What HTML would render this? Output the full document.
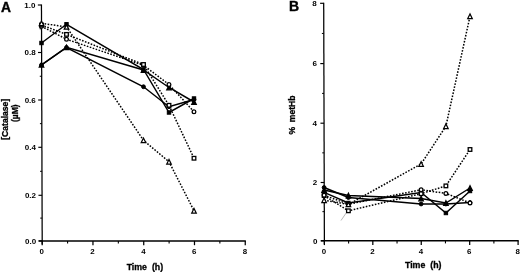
<!DOCTYPE html>
<html><head><meta charset="utf-8"><title>Figure</title>
<style>
html,body{margin:0;padding:0;background:#fff;overflow:hidden;}
svg{display:block;font-family:"Liberation Sans", sans-serif;will-change:transform;}
</style></head><body>
<svg width="520" height="272" viewBox="0 0 520 272">
<rect width="520" height="272" fill="#fff"/>
<path d="M41.45,4.4 L42.2,244.3" fill="none" stroke="#000" stroke-width="1.25"/>
<path d="M38.6,240.9 H245.85" fill="none" stroke="#000" stroke-width="1.5"/>
<line x1="38.60" y1="240.90" x2="42.20" y2="240.90" stroke="#000" stroke-width="1.15"/>
<text x="36.2" y="243.65" font-size="8.0" font-weight="bold" text-anchor="end">0.0</text>
<line x1="40.23" y1="218.10" x2="42.13" y2="218.10" stroke="#000" stroke-width="1"/>
<line x1="38.46" y1="195.30" x2="42.06" y2="195.30" stroke="#000" stroke-width="1.15"/>
<text x="36.06" y="198.05" font-size="8.0" font-weight="bold" text-anchor="end">0.2</text>
<line x1="40.08" y1="171.30" x2="41.98" y2="171.30" stroke="#000" stroke-width="1"/>
<line x1="38.30" y1="147.30" x2="41.90" y2="147.30" stroke="#000" stroke-width="1.15"/>
<text x="35.9" y="150.05" font-size="8.0" font-weight="bold" text-anchor="end">0.4</text>
<line x1="39.93" y1="123.65" x2="41.83" y2="123.65" stroke="#000" stroke-width="1"/>
<line x1="38.15" y1="100.00" x2="41.75" y2="100.00" stroke="#000" stroke-width="1.15"/>
<text x="35.75" y="102.75" font-size="8.0" font-weight="bold" text-anchor="end">0.6</text>
<line x1="39.78" y1="76.25" x2="41.68" y2="76.25" stroke="#000" stroke-width="1"/>
<line x1="38.00" y1="52.50" x2="41.60" y2="52.50" stroke="#000" stroke-width="1.15"/>
<text x="35.6" y="55.25" font-size="8.0" font-weight="bold" text-anchor="end">0.8</text>
<line x1="39.63" y1="28.75" x2="41.53" y2="28.75" stroke="#000" stroke-width="1"/>
<line x1="37.85" y1="5.00" x2="41.45" y2="5.00" stroke="#000" stroke-width="1.15"/>
<text x="35.45" y="7.75" font-size="8.0" font-weight="bold" text-anchor="end">1.0</text>
<line x1="42.20" y1="240.9" x2="42.20" y2="245.20000000000002" stroke="#000" stroke-width="1.25"/>
<text x="41.8" y="254.1" font-size="7.9" font-weight="bold" text-anchor="middle">0</text>
<line x1="67.58" y1="240.9" x2="67.58" y2="243.5" stroke="#000" stroke-width="1.1"/>
<line x1="92.96" y1="240.9" x2="92.96" y2="245.20000000000002" stroke="#000" stroke-width="1.25"/>
<text x="92.56" y="254.1" font-size="7.9" font-weight="bold" text-anchor="middle">2</text>
<line x1="118.34" y1="240.9" x2="118.34" y2="243.5" stroke="#000" stroke-width="1.1"/>
<line x1="143.73" y1="240.9" x2="143.73" y2="245.20000000000002" stroke="#000" stroke-width="1.25"/>
<text x="143.33" y="254.1" font-size="7.9" font-weight="bold" text-anchor="middle">4</text>
<line x1="169.11" y1="240.9" x2="169.11" y2="243.5" stroke="#000" stroke-width="1.1"/>
<line x1="194.49" y1="240.9" x2="194.49" y2="245.20000000000002" stroke="#000" stroke-width="1.25"/>
<text x="194.09" y="254.1" font-size="7.9" font-weight="bold" text-anchor="middle">6</text>
<line x1="219.87" y1="240.9" x2="219.87" y2="243.5" stroke="#000" stroke-width="1.1"/>
<line x1="245.25" y1="240.9" x2="245.25" y2="245.20000000000002" stroke="#000" stroke-width="1.25"/>
<text x="244.85" y="254.1" font-size="7.9" font-weight="bold" text-anchor="middle">8</text>
<text x="144.9" y="270.2" font-size="8.8" font-weight="bold" stroke="#000" stroke-width="0.3" text-anchor="middle">Time&#160;&#160;(h)</text>
<text x="8.2" y="119.3" font-size="8.6" font-weight="bold" stroke="#000" stroke-width="0.3" text-anchor="middle" transform="rotate(-90 8.2 119.3)">[Catalase]</text>
<text x="18.4" y="113.2" font-size="8.5" font-weight="bold" stroke="#000" stroke-width="0.3" text-anchor="middle" transform="rotate(-90 18.4 113.2)">(µM)</text>
<text x="0" y="0" font-size="14.4" font-weight="bold" stroke="#000" stroke-width="0.4" text-anchor="start" transform="translate(0.9 11.5) scale(0.96 1)">A</text>
<polyline points="41.50,26.30 66.50,39.25 143.50,65.30 169.00,84.50 194.00,111.75" fill="none" stroke="#000" stroke-width="1.5" stroke-dasharray="1.6 1.5"/>
<polyline points="41.50,25.00 66.50,34.40 143.50,64.50 169.00,105.30 194.00,158.25" fill="none" stroke="#000" stroke-width="1.5" stroke-dasharray="1.6 1.5"/>
<polyline points="41.50,23.30 66.50,26.90 143.50,140.30 169.00,161.75 194.00,210.75" fill="none" stroke="#000" stroke-width="1.5" stroke-dasharray="1.6 1.5"/>
<polyline points="41.50,65.00 66.50,47.50 143.50,86.75 169.00,106.75 194.00,99.50" fill="none" stroke="#000" stroke-width="1.45"/>
<polyline points="41.50,64.80 66.50,47.30 143.50,70.00 169.00,87.50 194.00,102.00" fill="none" stroke="#000" stroke-width="1.45"/>
<polyline points="41.50,43.00 66.50,24.25 143.50,69.50 169.00,112.50 194.00,98.50" fill="none" stroke="#000" stroke-width="1.45"/>
<circle cx="41.50" cy="65.00" r="1.9" fill="#000" stroke="#000" stroke-width="1.0"/>
<circle cx="66.50" cy="47.50" r="1.9" fill="#000" stroke="#000" stroke-width="1.0"/>
<circle cx="143.50" cy="86.75" r="1.9" fill="#000" stroke="#000" stroke-width="1.0"/>
<circle cx="169.00" cy="106.75" r="1.9" fill="#000" stroke="#000" stroke-width="1.0"/>
<circle cx="194.00" cy="99.50" r="1.9" fill="#000" stroke="#000" stroke-width="1.0"/>
<polygon points="41.50,62.55 39.25,67.05 43.75,67.05" fill="#000" stroke="#000" stroke-width="1.25" stroke-linejoin="miter"/>
<polygon points="66.50,45.05 64.25,49.55 68.75,49.55" fill="#000" stroke="#000" stroke-width="1.25" stroke-linejoin="miter"/>
<polygon points="143.50,67.75 141.25,72.25 145.75,72.25" fill="#000" stroke="#000" stroke-width="1.25" stroke-linejoin="miter"/>
<polygon points="169.00,85.25 166.75,89.75 171.25,89.75" fill="#000" stroke="#000" stroke-width="1.25" stroke-linejoin="miter"/>
<polygon points="194.00,99.75 191.75,104.25 196.25,104.25" fill="#000" stroke="#000" stroke-width="1.25" stroke-linejoin="miter"/>
<rect x="39.80" y="41.30" width="3.40" height="3.40" fill="#000" stroke="#000" stroke-width="1.0"/>
<rect x="64.80" y="22.55" width="3.40" height="3.40" fill="#000" stroke="#000" stroke-width="1.0"/>
<rect x="141.80" y="67.80" width="3.40" height="3.40" fill="#000" stroke="#000" stroke-width="1.0"/>
<rect x="167.30" y="110.80" width="3.40" height="3.40" fill="#000" stroke="#000" stroke-width="1.0"/>
<rect x="192.30" y="96.80" width="3.40" height="3.40" fill="#000" stroke="#000" stroke-width="1.0"/>
<circle cx="41.50" cy="26.30" r="1.85" fill="#fff" stroke="#000" stroke-width="1.3"/>
<circle cx="66.50" cy="39.25" r="1.85" fill="#fff" stroke="#000" stroke-width="1.3"/>
<circle cx="143.50" cy="65.30" r="1.85" fill="#fff" stroke="#000" stroke-width="1.3"/>
<circle cx="169.00" cy="84.50" r="1.85" fill="#fff" stroke="#000" stroke-width="1.3"/>
<circle cx="194.00" cy="111.75" r="1.85" fill="#fff" stroke="#000" stroke-width="1.3"/>
<rect x="39.70" y="23.20" width="3.60" height="3.60" fill="#fff" stroke="#000" stroke-width="1.3"/>
<rect x="64.70" y="32.60" width="3.60" height="3.60" fill="#fff" stroke="#000" stroke-width="1.3"/>
<rect x="141.70" y="62.70" width="3.60" height="3.60" fill="#fff" stroke="#000" stroke-width="1.3"/>
<rect x="167.20" y="103.50" width="3.60" height="3.60" fill="#fff" stroke="#000" stroke-width="1.3"/>
<rect x="192.20" y="156.45" width="3.60" height="3.60" fill="#fff" stroke="#000" stroke-width="1.3"/>
<polygon points="41.50,21.05 39.25,25.55 43.75,25.55" fill="#fff" stroke="#000" stroke-width="1.25" stroke-linejoin="miter"/>
<polygon points="66.50,24.65 64.25,29.15 68.75,29.15" fill="#fff" stroke="#000" stroke-width="1.25" stroke-linejoin="miter"/>
<polygon points="143.50,138.05 141.25,142.55 145.75,142.55" fill="#fff" stroke="#000" stroke-width="1.25" stroke-linejoin="miter"/>
<polygon points="169.00,159.50 166.75,164.00 171.25,164.00" fill="#fff" stroke="#000" stroke-width="1.25" stroke-linejoin="miter"/>
<polygon points="194.00,208.50 191.75,213.00 196.25,213.00" fill="#fff" stroke="#000" stroke-width="1.25" stroke-linejoin="miter"/>
<path d="M323.7,2.6999999999999997 L324.4,244.20000000000002" fill="none" stroke="#000" stroke-width="1.25"/>
<path d="M320.79999999999995,240.8 H518.7" fill="none" stroke="#000" stroke-width="1.5"/>
<line x1="320.80" y1="240.80" x2="324.40" y2="240.80" stroke="#000" stroke-width="1.15"/>
<text x="317.4" y="243.55" font-size="8.0" font-weight="bold" text-anchor="end">0</text>
<line x1="322.41" y1="211.65" x2="324.31" y2="211.65" stroke="#000" stroke-width="1"/>
<line x1="320.63" y1="182.50" x2="324.23" y2="182.50" stroke="#000" stroke-width="1.15"/>
<text x="317.23" y="185.25" font-size="8.0" font-weight="bold" text-anchor="end">2</text>
<line x1="322.24" y1="152.85" x2="324.14" y2="152.85" stroke="#000" stroke-width="1"/>
<line x1="320.45" y1="123.20" x2="324.05" y2="123.20" stroke="#000" stroke-width="1.15"/>
<text x="317.05" y="125.95" font-size="8.0" font-weight="bold" text-anchor="end">4</text>
<line x1="322.07" y1="93.40" x2="323.97" y2="93.40" stroke="#000" stroke-width="1"/>
<line x1="320.28" y1="63.60" x2="323.88" y2="63.60" stroke="#000" stroke-width="1.15"/>
<text x="316.88" y="66.35" font-size="8.0" font-weight="bold" text-anchor="end">6</text>
<line x1="321.89" y1="33.45" x2="323.79" y2="33.45" stroke="#000" stroke-width="1"/>
<line x1="320.10" y1="3.30" x2="323.70" y2="3.30" stroke="#000" stroke-width="1.15"/>
<text x="316.7" y="6.05" font-size="8.0" font-weight="bold" text-anchor="end">8</text>
<line x1="324.40" y1="240.8" x2="324.40" y2="245.10000000000002" stroke="#000" stroke-width="1.25"/>
<text x="324.0" y="253.8" font-size="7.9" font-weight="bold" text-anchor="middle">0</text>
<line x1="348.61" y1="240.8" x2="348.61" y2="243.4" stroke="#000" stroke-width="1.1"/>
<line x1="372.82" y1="240.8" x2="372.82" y2="245.10000000000002" stroke="#000" stroke-width="1.25"/>
<text x="372.43" y="253.8" font-size="7.9" font-weight="bold" text-anchor="middle">2</text>
<line x1="397.04" y1="240.8" x2="397.04" y2="243.4" stroke="#000" stroke-width="1.1"/>
<line x1="421.25" y1="240.8" x2="421.25" y2="245.10000000000002" stroke="#000" stroke-width="1.25"/>
<text x="420.85" y="253.8" font-size="7.9" font-weight="bold" text-anchor="middle">4</text>
<line x1="445.46" y1="240.8" x2="445.46" y2="243.4" stroke="#000" stroke-width="1.1"/>
<line x1="469.68" y1="240.8" x2="469.68" y2="245.10000000000002" stroke="#000" stroke-width="1.25"/>
<text x="469.28" y="253.8" font-size="7.9" font-weight="bold" text-anchor="middle">6</text>
<line x1="493.89" y1="240.8" x2="493.89" y2="243.4" stroke="#000" stroke-width="1.1"/>
<line x1="518.10" y1="240.8" x2="518.10" y2="245.10000000000002" stroke="#000" stroke-width="1.25"/>
<text x="517.7" y="253.8" font-size="7.9" font-weight="bold" text-anchor="middle">8</text>
<text x="423.2" y="267.8" font-size="8.8" font-weight="bold" stroke="#000" stroke-width="0.3" text-anchor="middle">Time&#160;&#160;(h)</text>
<text x="294.8" y="115" font-size="8.6" font-weight="bold" stroke="#000" stroke-width="0.3" text-anchor="middle" transform="rotate(-90 294.8 115)">%&#160;&#160;metHb</text>
<text x="0" y="0" font-size="14.4" font-weight="bold" stroke="#000" stroke-width="0.4" text-anchor="start" transform="translate(288.9 11.3) scale(0.97 1)">B</text>
<line x1="341" y1="220.5" x2="347.5" y2="211" stroke="#888" stroke-width="0.6"/>
<polyline points="324.10,195.60 348.40,210.80 421.10,193.70 445.90,185.90 470.00,149.50" fill="none" stroke="#000" stroke-width="1.5" stroke-dasharray="1.6 1.5"/>
<polyline points="324.10,195.20 348.40,204.20 421.10,189.80 445.90,193.40 470.00,202.90" fill="none" stroke="#000" stroke-width="1.5" stroke-dasharray="1.6 1.5"/>
<polyline points="324.10,200.25 348.40,204.40 421.10,164.00 445.90,126.25 470.00,16.25" fill="none" stroke="#000" stroke-width="1.5" stroke-dasharray="1.6 1.5"/>
<polyline points="324.10,187.50 348.40,197.50 421.10,204.00 445.90,204.00 470.00,202.50" fill="none" stroke="#000" stroke-width="1.45"/>
<polyline points="324.10,192.40 348.40,203.00 421.10,192.50 445.90,213.00 470.00,191.00" fill="none" stroke="#000" stroke-width="1.45"/>
<polyline points="324.10,190.00 348.40,195.50 421.10,198.50 445.90,203.00 470.00,188.00" fill="none" stroke="#000" stroke-width="1.45"/>
<circle cx="324.10" cy="187.50" r="1.9" fill="#000" stroke="#000" stroke-width="1.0"/>
<circle cx="348.40" cy="197.50" r="1.9" fill="#000" stroke="#000" stroke-width="1.0"/>
<circle cx="421.10" cy="204.00" r="1.9" fill="#000" stroke="#000" stroke-width="1.0"/>
<circle cx="445.90" cy="204.00" r="1.9" fill="#000" stroke="#000" stroke-width="1.0"/>
<circle cx="470.00" cy="202.50" r="1.9" fill="#000" stroke="#000" stroke-width="1.0"/>
<rect x="322.40" y="190.70" width="3.40" height="3.40" fill="#000" stroke="#000" stroke-width="1.0"/>
<rect x="346.70" y="201.30" width="3.40" height="3.40" fill="#000" stroke="#000" stroke-width="1.0"/>
<rect x="419.40" y="190.80" width="3.40" height="3.40" fill="#000" stroke="#000" stroke-width="1.0"/>
<rect x="444.20" y="211.30" width="3.40" height="3.40" fill="#000" stroke="#000" stroke-width="1.0"/>
<rect x="468.30" y="189.30" width="3.40" height="3.40" fill="#000" stroke="#000" stroke-width="1.0"/>
<polygon points="324.10,187.75 321.85,192.25 326.35,192.25" fill="#000" stroke="#000" stroke-width="1.25" stroke-linejoin="miter"/>
<polygon points="348.40,193.25 346.15,197.75 350.65,197.75" fill="#000" stroke="#000" stroke-width="1.25" stroke-linejoin="miter"/>
<polygon points="421.10,196.25 418.85,200.75 423.35,200.75" fill="#000" stroke="#000" stroke-width="1.25" stroke-linejoin="miter"/>
<polygon points="445.90,200.75 443.65,205.25 448.15,205.25" fill="#000" stroke="#000" stroke-width="1.25" stroke-linejoin="miter"/>
<polygon points="470.00,185.75 467.75,190.25 472.25,190.25" fill="#000" stroke="#000" stroke-width="1.25" stroke-linejoin="miter"/>
<rect x="322.30" y="193.80" width="3.60" height="3.60" fill="#fff" stroke="#000" stroke-width="1.3"/>
<rect x="346.60" y="209.00" width="3.60" height="3.60" fill="#fff" stroke="#000" stroke-width="1.3"/>
<rect x="419.30" y="191.90" width="3.60" height="3.60" fill="#fff" stroke="#000" stroke-width="1.3"/>
<rect x="444.10" y="184.10" width="3.60" height="3.60" fill="#fff" stroke="#000" stroke-width="1.3"/>
<rect x="468.20" y="147.70" width="3.60" height="3.60" fill="#fff" stroke="#000" stroke-width="1.3"/>
<circle cx="324.10" cy="195.20" r="1.85" fill="#fff" stroke="#000" stroke-width="1.3"/>
<circle cx="348.40" cy="204.20" r="1.85" fill="#fff" stroke="#000" stroke-width="1.3"/>
<circle cx="421.10" cy="189.80" r="1.85" fill="#fff" stroke="#000" stroke-width="1.3"/>
<circle cx="445.90" cy="193.40" r="1.85" fill="#fff" stroke="#000" stroke-width="1.3"/>
<circle cx="470.00" cy="202.90" r="1.85" fill="#fff" stroke="#000" stroke-width="1.3"/>
<polygon points="324.10,198.00 321.85,202.50 326.35,202.50" fill="#fff" stroke="#000" stroke-width="1.25" stroke-linejoin="miter"/>
<polygon points="348.40,202.15 346.15,206.65 350.65,206.65" fill="#fff" stroke="#000" stroke-width="1.25" stroke-linejoin="miter"/>
<polygon points="421.10,161.75 418.85,166.25 423.35,166.25" fill="#fff" stroke="#000" stroke-width="1.25" stroke-linejoin="miter"/>
<polygon points="445.90,124.00 443.65,128.50 448.15,128.50" fill="#fff" stroke="#000" stroke-width="1.25" stroke-linejoin="miter"/>
<polygon points="470.00,14.00 467.75,18.50 472.25,18.50" fill="#fff" stroke="#000" stroke-width="1.25" stroke-linejoin="miter"/>
</svg>
</body></html>
